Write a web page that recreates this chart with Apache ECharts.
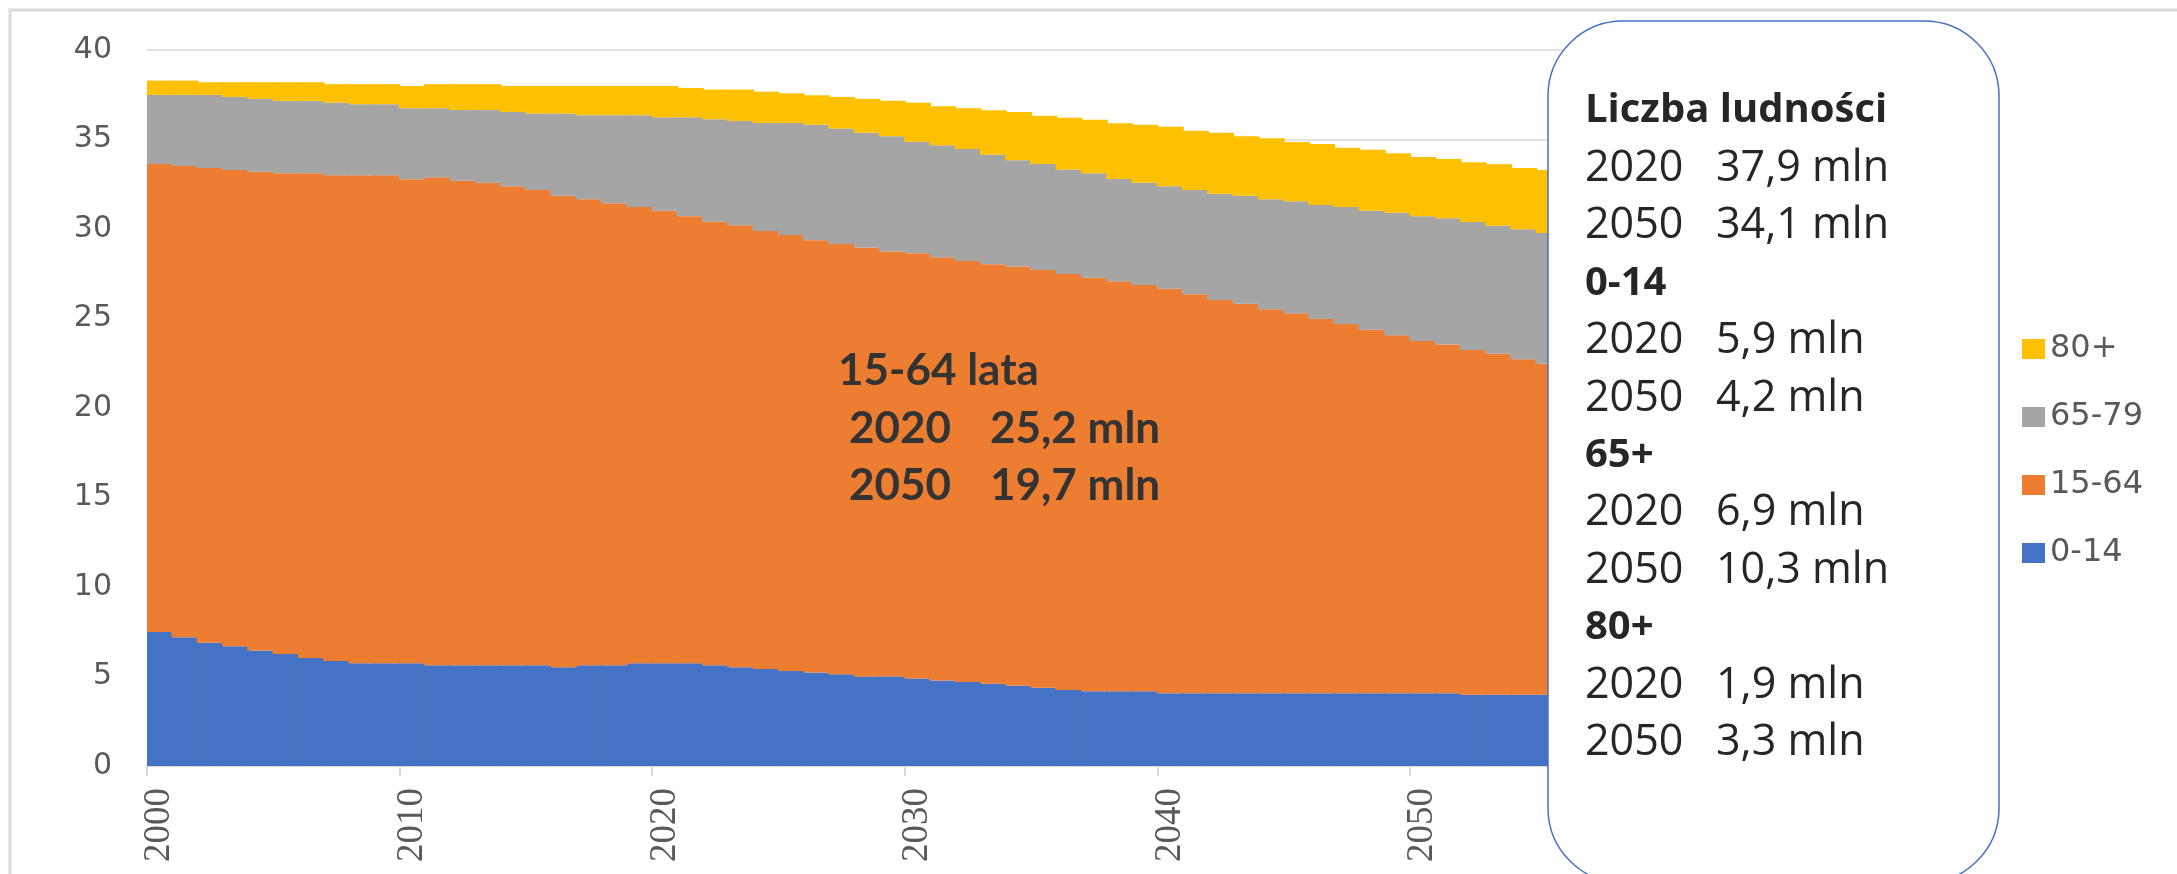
<!DOCTYPE html>
<html>
<head>
<meta charset="utf-8">
<script src="https://cdn.jsdelivr.net/npm/echarts@6/dist/echarts.min.js"></script>
<style>
html,body{margin:0;padding:0;background:#fff;}
#chart{width:2177px;height:874px;}
</style>
</head>
<body>
<div id="chart"></div>
<script>
// Categories: years 2000-2060
const years = Array.from({length: 61}, (_, i) => String(2000 + i));

// Population by age group (mln)
const age0_14 = [7.49,7.19,6.88,6.69,6.45,6.26,6.04,5.86,5.74,5.74,
  5.74,5.63,5.63,5.63,5.63,5.63,5.52,5.63,5.63,5.74,
  5.74,5.74,5.63,5.52,5.42,5.31,5.22,5.13,5.00,5.00,
  4.89,4.78,4.69,4.59,4.48,4.37,4.25,4.18,4.18,4.18,
  4.07,4.07,4.07,4.07,4.07,4.07,4.07,4.07,4.07,4.07,
  4.07,4.07,3.98,3.98,3.98,3.98,3.98,3.98,3.95,3.95,
  3.92];
const age15_64 = [26.14,26.33,26.53,26.61,26.75,26.85,27.07,27.14,27.26,27.26,
  27.04,27.26,27.07,26.96,26.76,26.55,26.34,26.03,25.81,25.49,
  25.28,24.97,24.78,24.69,24.47,24.35,24.15,24.03,23.96,23.75,
  23.75,23.64,23.52,23.44,23.43,23.34,23.24,23.10,22.90,22.69,
  22.59,22.28,21.96,21.76,21.44,21.23,20.92,20.62,20.30,19.99,
  19.67,19.48,19.26,19.05,18.74,18.51,18.32,18.12,17.95,17.75,
  17.58];
const age65_79 = [3.86,3.97,4.08,4.08,4.07,4.05,4.05,4.06,3.97,3.97,
  3.97,3.86,3.95,4.06,4.15,4.27,4.59,4.70,4.92,5.13,
  5.22,5.53,5.72,5.83,6.03,6.26,6.46,6.45,6.42,6.43,
  6.24,6.26,6.26,6.12,5.93,5.92,5.83,5.83,5.72,5.72,
  5.73,5.83,5.94,6.03,6.15,6.25,6.35,6.54,6.65,6.85,
  6.97,7.05,7.15,7.15,7.26,7.29,7.30,7.30,7.30,7.30,
  7.30];
const age80 = [0.80,0.80,0.71,0.82,0.93,1.04,1.04,1.03,1.12,1.12,
  1.24,1.34,1.44,1.44,1.45,1.54,1.54,1.63,1.63,1.63,
  1.75,1.64,1.66,1.75,1.75,1.66,1.64,1.77,1.89,1.99,
  2.18,2.18,2.28,2.48,2.70,2.70,2.90,3.00,3.11,3.23,
  3.32,3.31,3.41,3.32,3.41,3.31,3.41,3.31,3.41,3.32,
  3.31,3.31,3.34,3.44,3.43,3.52,3.60,3.60,3.70,3.70,
  3.80];

const seriesNames = ['0-14', '15-64', '65-79', '80+'];
const seriesColors = ['#4472C4', '#ED7D31', '#A5A5A5', '#FFC000'];
const seriesData = [age0_14, age15_64, age65_79, age80];

// Annotation texts
const boxLines = [
  ['b', 'Liczba ludności'],
  ['r', '2020', '37,9 mln'],
  ['r', '2050', '34,1 mln'],
  ['b', '0-14'],
  ['r', '2020', '5,9 mln'],
  ['r', '2050', '4,2 mln'],
  ['b', '65+'],
  ['r', '2020', '6,9 mln'],
  ['r', '2050', '10,3 mln'],
  ['b', '80+'],
  ['r', '2020', '1,9 mln'],
  ['r', '2050', '3,3 mln']
];
const midTitle = '15-64 lata';
const midLines = [['2020', '25,2 mln'], ['2050', '19,7 mln']];

const chart = echarts.init(document.getElementById('chart'), null, {renderer: 'canvas'});

const boxText = boxLines.map(l => l[0] === 'b' ? '{b|' + l[1] + '}' : '{y|' + l[1] + '}{v|' + l[2] + '}').join('\n');
const midText = midLines.map(l => '{y|' + l[0] + '}{v|' + l[1] + '}').join('\n');

const LH = 57.45;
const boxFont = {fontFamily: 'Open Sans', fontSize: 43, fill: '#262626', lineHeight: LH};
const boxBold = {fontFamily: 'Open Sans', fontSize: 40, fontWeight: 'bold', fill: '#262626', lineHeight: LH};
const midFont = {fontFamily: 'Lato', fontSize: 44, fontWeight: 'bold', fill: '#333333', lineHeight: LH};

const option = {
  animation: false,
  backgroundColor: '#ffffff',
  grid: {left: 147, right: 489, top: 50, bottom: 108, containLabel: false, outerBoundsMode: 'none'},
  xAxis: {
    type: 'category',
    data: years,
    boundaryGap: true,
    axisLine: {lineStyle: {color: '#D9D9D9', width: 2}},
    axisTick: {show: true, interval: 9, length: 10, lineStyle: {color: '#D9D9D9', width: 2}},
    axisLabel: {interval: 9, rotate: 90, margin: 22, fontFamily: 'Liberation Sans Narrow', fontSize: 37, color: '#595959'}
  },
  yAxis: {
    type: 'value', min: 0, max: 40, interval: 5,
    axisLine: {show: false}, axisTick: {show: false},
    splitLine: {lineStyle: {color: '#D9D9D9', width: 1.5}},
    axisLabel: {margin: 35, fontFamily: 'DejaVu Sans', fontSize: 30, color: '#595959'}
  },
  legend: {
    orient: 'vertical',
    left: 2017, top: 328,
    itemWidth: 23, itemHeight: 20, itemGap: 36,
    icon: 'rect',
    data: ['80+', '65-79', '15-64', '0-14'],
    textStyle: {fontFamily: 'DejaVu Sans', fontSize: 32, color: '#595959', lineHeight: 30}
  },
  series: seriesNames.map((name, i) => ({
    name: name,
    type: 'bar',
    stack: 'pop',
    data: seriesData[i],
    barWidth: 27,
    itemStyle: {color: seriesColors[i]},
    emphasis: {disabled: true}
  })),
  graphic: [
    {type: 'rect', silent: true, z: 0, shape: {x: 10, y: 10, width: 2400, height: 1000},
      style: {fill: null, stroke: '#D9D9D9', lineWidth: 3}},
    {type: 'text', silent: true, z: 50, x: 838, y: 371 - LH / 2,
      style: Object.assign({text: midTitle}, midFont)},
    {type: 'text', silent: true, z: 50, x: 849, y: 371 + LH / 2,
      style: Object.assign({text: midText, rich: {
        y: Object.assign({width: 141}, midFont),
        v: Object.assign({}, midFont)
      }}, midFont)},
    {type: 'rect', silent: true, z: 100, shape: {x: 1548, y: 21, width: 451, height: 862, r: 75},
      style: {fill: '#ffffff', stroke: '#4472C4', lineWidth: 1.5}},
    {type: 'text', silent: true, z: 101, x: 1585, y: 111 - LH / 2,
      style: Object.assign({text: boxText, rich: {
        b: Object.assign({}, boxBold),
        y: Object.assign({width: 131}, boxFont),
        v: Object.assign({}, boxFont)
      }}, boxFont)}
  ]
};
chart.setOption(option);
</script>
</body>
</html>
